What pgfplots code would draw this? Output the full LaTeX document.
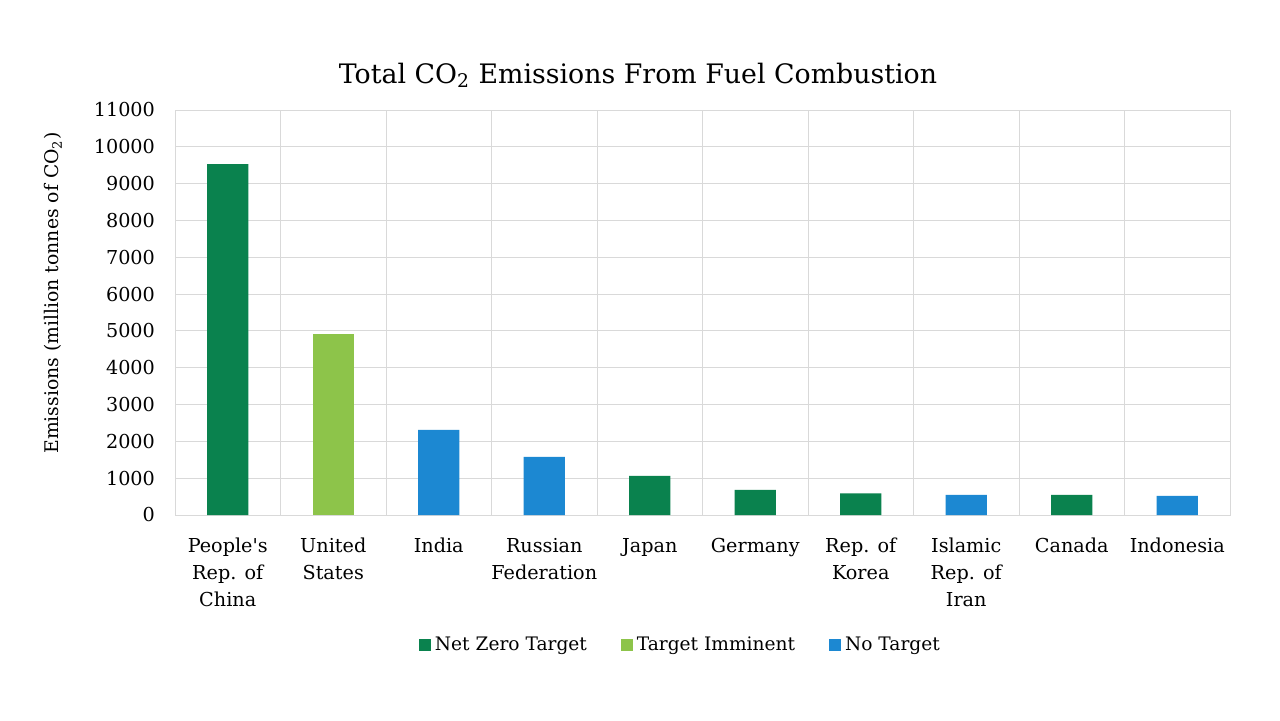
\documentclass[border=0pt]{standalone}
\usepackage{fontspec}
\setmainfont{DejaVu Serif}
\usepackage{pgfplots}
\pgfplotsset{compat=1.18}
\definecolor{netzero}{HTML}{0A824E}
\definecolor{imminent}{HTML}{8DC44A}
\definecolor{notarget}{HTML}{1C88D2}
\definecolor{gridc}{HTML}{D9D9D9}
\begin{document}
\begin{tikzpicture}
\useasboundingbox[fill=white] (0,0) rectangle (640pt,360pt);
\node[font=\fontsize{13.4}{16}\selectfont] at (319pt,322.5pt) {Total CO\textsubscript{2} Emissions From Fuel Combustion};
\node[font=\fontsize{9.4}{11}\selectfont, rotate=90] at (26.5pt,213.5pt) {Emissions (million tonnes of CO\textsubscript{2})};
\begin{axis}[
  at={(87.5pt,102.5pt)}, anchor=south west,
  width=527.5pt, height=202.5pt, scale only axis,
  xmin=-0.5, xmax=9.5, ymin=0, ymax=11000,
  ytick={0,1000,...,11000},
  scaled y ticks=false,
  xtick={0,...,9},
  xticklabels={{People\textquotesingle s\\Rep. of\\China},{United\\States},India,{Russian\\Federation},Japan,Germany,{Rep. of\\Korea},{Islamic\\Rep. of\\Iran},Canada,Indonesia},
  minor xtick={-0.5,0.5,...,9.5},
  xminorgrids, ymajorgrids,
  grid style={gridc, line width=0.5pt},
  minor grid style={gridc, line width=0.5pt},
  axis line style={gridc, line width=0.5pt},
  major tick length=0pt, minor tick length=0pt,
  tick style={draw=none},
  /pgf/number format/1000 sep={},
  /pgf/number format/assume math mode=true,
  ticklabel style={font=\fontsize{9.6}{13.5}\selectfont},
  xticklabel style={align=center, anchor=north, yshift=-8pt},
  yticklabel style={xshift=-6.5pt},
  ybar, bar width=0.39, bar shift=0pt,
  legend style={at={(0.48,-0.321)}, anchor=center, draw=none, font=\fontsize{9.3}{11}\selectfont, legend columns=3, /tikz/every even column/.append style={column sep=15pt}},
  legend image code/.code={\fill[#1] (0pt,-3pt) rectangle (6pt,3pt);},
]
\addplot[fill=netzero, draw=none] coordinates {(0,9530) (4,1060) (5,680) (6,590) (8,550)};
\addlegendentry{Net Zero Target}
\addplot[fill=imminent, draw=none] coordinates {(1,4920)};
\addlegendentry{Target Imminent}
\addplot[fill=notarget, draw=none] coordinates {(2,2310) (3,1580) (7,550) (9,520)};
\addlegendentry{No Target}
\end{axis}
\end{tikzpicture}
\end{document}
